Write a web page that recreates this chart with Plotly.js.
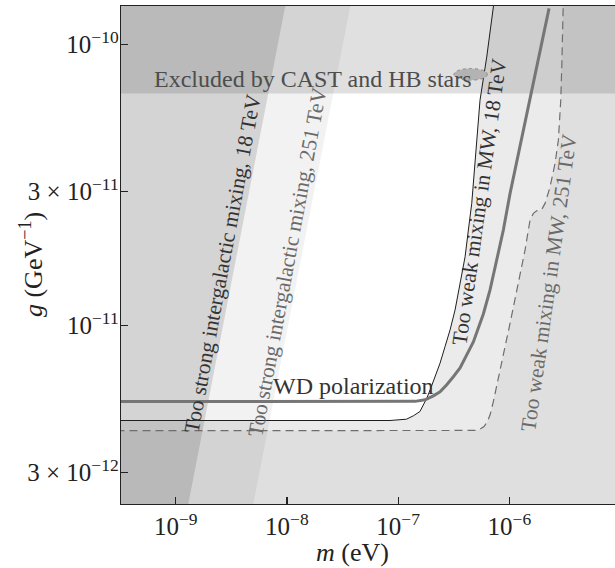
<!DOCTYPE html>
<html><head><meta charset="utf-8">
<script src="https://cdn.plot.ly/plotly-3.0.1.min.js"></script>
<style>html,body{margin:0;padding:0;background:#fff}#chart{width:615px;height:568px}</style>
</head><body><div id="chart"></div>
<script>
// ---- tick labels ----
const xTickVals = [1e-9, 1e-8, 1e-7, 1e-6];
const xTickText = ['10<sup>−9</sup>', '10<sup>−8</sup>', '10<sup>−7</sup>', '10<sup>−6</sup>'];
const yTickVals = [1e-10, 3e-11, 1e-11, 3e-12];
const yTickText = ['10<sup>−10</sup>', '3 × 10<sup>−11</sup>', '10<sup>−11</sup>', '3 × 10<sup>−12</sup>'];

// ---- region boundaries (m in eV, g in GeV^-1) ----
const castLowerG = 6.68e-11;                 // Excluded by CAST and HB stars (above)
const ig18M = [1.0e-9, 1.26e-8];             // too strong intergalactic mixing, 18 TeV (left of)
const ig18G = [1.37e-12, 2.34e-10];
const ig251M = [3.98e-9, 5.01e-8];           // too strong intergalactic mixing, 251 TeV (left of)
const ig251G = [1.47e-12, 2.51e-10];

// too weak mixing in MW, 18 TeV (thin solid curve)
const mw18M = [1e-10, 8.45e-8, 1.19e-7, 1.37e-7, 1.57e-7, 1.69e-7, 1.81e-7, 1.94e-7, 2.07e-7, 2.22e-7, 2.38e-7, 2.64e-7, 2.93e-7, 3.25e-7, 3.61e-7, 4.00e-7, 4.28e-7, 4.59e-7, 5.45e-7, 6.26e-7, 7.18e-7, 7.36e-7];
const mw18G = [4.60e-12, 4.60e-12, 4.65e-12, 4.78e-12, 4.95e-12, 5.23e-12, 5.52e-12, 5.91e-12, 6.33e-12, 6.78e-12, 7.35e-12, 8.42e-12, 9.65e-12, 1.137e-11, 1.414e-11, 1.757e-11, 2.186e-11, 2.72e-11, 6.33e-11, 9.01e-11, 1.356e-10, 1.556e-10];

// too weak mixing in MW, 251 TeV (dashed curve)
const mw251M = [1e-10, 4.43e-7, 4.92e-7, 5.45e-7, 5.92e-7, 6.34e-7, 6.71e-7, 7.18e-7, 7.70e-7, 8.25e-7, 9.15e-7, 1.015e-6, 1.125e-6, 1.248e-6, 1.384e-6, 1.482e-6, 1.535e-6, 1.644e-6, 1.763e-6, 1.956e-6, 2.095e-6, 2.323e-6, 2.576e-6, 2.759e-6, 2.899e-6, 2.960e-6, 3.022e-6, 3.059e-6, 3.072e-6];
const mw251G = [4.23e-12, 4.23e-12, 4.24e-12, 4.29e-12, 4.38e-12, 4.56e-12, 4.82e-12, 5.37e-12, 6.07e-12, 6.87e-12, 8.42e-12, 1.02e-11, 1.234e-11, 1.492e-11, 1.856e-11, 2.186e-11, 2.372e-11, 2.506e-11, 2.559e-11, 2.589e-11, 2.719e-11, 3.113e-11, 3.771e-11, 4.562e-11, 6.326e-11, 8.306e-11, 1.091e-10, 1.356e-10, 1.554e-10];

// WD polarization (thick gray curve)
const wdM = [1e-10, 8.45e-8, 1.419e-7, 1.746e-7, 2.073e-7, 2.381e-7, 2.736e-7, 3.135e-7, 3.603e-7, 4.746e-7, 5.837e-7, 6.705e-7, 7.702e-7, 8.831e-7, 1.015e-6, 1.336e-6, 2.275e-6];
const wdG = [5.37e-12, 5.37e-12, 5.38e-12, 5.45e-12, 5.63e-12, 5.82e-12, 6.16e-12, 6.58e-12, 7.07e-12, 8.75e-12, 1.10e-11, 1.339e-11, 1.711e-11, 2.186e-11, 2.951e-11, 4.952e-11, 1.342e-10];

// outer frame used to close the shaded regions (outside the visible axes)
const mLo = 1e-10, mHi = 1e-4, gLo = 1e-13, gHi = 1e-9;

// ---- labels ----
const labelTexts = ['Excluded by CAST and HB stars', 'WD polarization',
  'Too strong intergalactic mixing, 18 TeV', 'Too strong intergalactic mixing, 251 TeV',
  'Too weak mixing in MW, 18 TeV', 'Too weak mixing in MW, 251 TeV'];

const FONT = 'Liberation Serif, Times New Roman, Times, serif';

function region(x, y, alpha) {
  return {x: x, y: y, type: 'scatter', mode: 'lines', fill: 'toself',
    fillcolor: 'rgba(0,0,0,' + alpha + ')', line: {width: 0, color: 'rgba(0,0,0,0)'},
    hoverinfo: 'skip', showlegend: false};
}
function igRegion(M, G, a) {
  return region([mLo].concat(M, [mLo]), [G[0]].concat(G, [G[G.length - 1]]), a);
}
function mwRegion(M, G, a) {
  return region(M.concat([mHi, mHi, mLo]), G.concat([G[G.length - 1], gLo, gLo]), a);
}

const traces = [
  region([mLo, mHi, mHi, mLo], [castLowerG, castLowerG, gHi, gHi], 0.12),
  igRegion(ig251M, ig251G, 0.05),
  igRegion(ig18M, ig18G, 0.12),
  mwRegion(mw18M, mw18G, 0.08),
  mwRegion(mw251M, mw251G, 0.05),
  {x: mw251M, y: mw251G, type: 'scatter', mode: 'lines', line: {color: '#6e6e6e', width: 1.2, dash: '8px,5px'}, hoverinfo: 'skip', showlegend: false},
  {x: mw18M, y: mw18G, type: 'scatter', mode: 'lines', line: {color: '#1e1e1e', width: 1}, hoverinfo: 'skip', showlegend: false},
  {x: wdM, y: wdG, type: 'scatter', mode: 'lines', line: {color: '#767676', width: 3}, hoverinfo: 'skip', showlegend: false}
];

function ann(text, x, y, size, color, angle) {
  return {text: text, x: x, y: y, xref: 'paper', yref: 'paper', showarrow: false,
    xanchor: 'center', yanchor: 'middle', textangle: angle,
    font: {family: FONT, size: size, color: color}};
}

const layout = {
  width: 615, height: 568,
  margin: {l: 121, r: 0, t: 6, b: 64},
  paper_bgcolor: '#fff', plot_bgcolor: '#fff',
  showlegend: false, hovermode: false,
  font: {family: FONT, color: '#222'},
  xaxis: {type: 'log', range: [-9.492, -5.05], tickvals: xTickVals, ticktext: xTickText,
    ticks: 'inside', ticklen: 7, tickwidth: 1.2, tickcolor: '#222',
    showline: true, linecolor: '#222', linewidth: 1.3, mirror: true,
    showgrid: false, zeroline: false, tickfont: {family: FONT, size: 25, color: '#222'}},
  yaxis: {type: 'log', range: [-11.634, -9.864], tickvals: yTickVals, ticktext: yTickText,
    ticks: 'inside', ticklen: 7, tickwidth: 1.2, tickcolor: '#222', ticklabelstandoff: -4,
    showline: true, linecolor: '#222', linewidth: 1.3,
    showgrid: false, zeroline: false, tickfont: {family: FONT, size: 25, color: '#222'}},
  shapes: [
    {type: 'circle', xref: 'paper', yref: 'paper', x0: 0.674, x1: 0.7415, y0: 0.851, y1: 0.8745,
      fillcolor: '#b3b3b3', line: {color: '#8a8a8a', width: 1, dash: 'dot'}, layer: 'above'}
  ],
  annotations: [
    ann(labelTexts[0], 0.3877, 0.853, 24, '#4d4d4d', 0),
    ann(labelTexts[1], 0.4706, 0.2373, 24, '#333', 0),
    ann(labelTexts[2], 0.2055, 0.482, 21.5, '#333', -79.5),
    ann(labelTexts[3], 0.337, 0.486, 21.5, '#6a6a6a', -79.5),
    ann(labelTexts[4], 0.7257, 0.6063, 21.5, '#333', -82),
    ann(labelTexts[5], 0.866, 0.444, 21.5, '#6a6a6a', -82),
    ann('<i>m</i> (eV)', 0.4696, -0.0977, 26, '#222', 0),
    ann('<i>g</i> (GeV<sup>−1</sup>)', -0.180, 0.48, 26, '#222', -90)
  ]
};

Plotly.newPlot('chart', traces, layout, {displayModeBar: false, staticPlot: true});
</script>
</body></html>
